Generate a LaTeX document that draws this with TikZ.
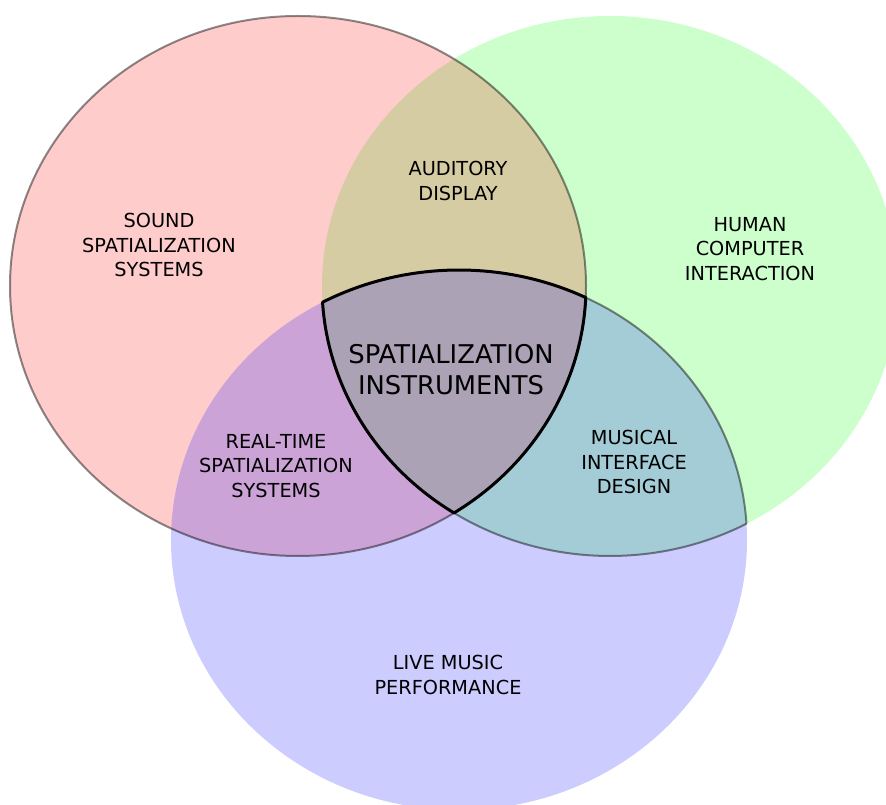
\documentclass[tikz,border=0pt]{standalone}
\usepackage{fontspec}
\setmainfont{DejaVu Sans}
\begin{document}
\begin{tikzpicture}[x=1pt,y=1pt,
  setfill/.style={fill opacity=0.2},
  thinline/.style={draw=black,draw opacity=0.45,line width=2pt},
  coreline/.style={draw=black,line width=3pt,line join=round},
  lbl/.style={align=center,inner sep=0pt,font=\fontsize{19.3}{24.3}\selectfont},
  biglbl/.style={align=center,inner sep=0pt,font=\fontsize{25.8}{31}\selectfont}]
\useasboundingbox (0,0) rectangle (886,804);
\clip (0,0) rectangle (886,804);
\coordinate (R) at (298,518);
\coordinate (G) at (610,518);
\coordinate (B) at (459,264);
% fills: green, red, blue at 20% opacity
\fill[green,setfill] (G) ellipse[x radius=288pt,y radius=270pt];
\fill[red,setfill] (R) ellipse[x radius=288pt,y radius=270pt];
\fill[blue,setfill] (B) ellipse[x radius=288pt,y radius=270pt];
% outlines
\draw[thinline] (R) ellipse[x radius=288pt,y radius=270pt];
\draw[thinline] ([shift={(B)}]63.90:288pt and 270pt)
  arc[start angle=63.90,end angle=3.45,x radius=288pt,y radius=270pt];
\draw[thinline] ([shift={(G)}]298.28:288pt and 270pt)
  arc[start angle=298.28,end angle=237.20,x radius=288pt,y radius=270pt];
\draw[coreline] ([shift={(B)}]63.90:288pt and 270pt)
  arc[start angle=63.90,end angle=118.28,x radius=288pt,y radius=270pt]
  arc[start angle=183.45,end angle=237.20,x radius=288pt,y radius=270pt]
  arc[start angle=-57.20,end angle=-2.45,x radius=288pt,y radius=270pt]
  -- cycle;
% labels
\node[lbl] (sound) at (159,559) {SOUND\\SPATIALIZATION\\SYSTEMS};
\node[lbl] (aud) at (458,623) {AUDITORY\\DISPLAY};
\node[lbl] (hci) at (750,555) {HUMAN\\COMPUTER\\INTERACTION};
\node[biglbl] (core) at (451,434.5) {SPATIALIZATION\\INSTRUMENTS};
\node[lbl] (rt) at (276,338) {REAL-TIME\\SPATIALIZATION\\SYSTEMS};
\node[lbl] (mid) at (634,342) {MUSICAL\\INTERFACE\\DESIGN};
\node[lbl] (live) at (448,129) {LIVE MUSIC\\PERFORMANCE};
\end{tikzpicture}
\end{document}
